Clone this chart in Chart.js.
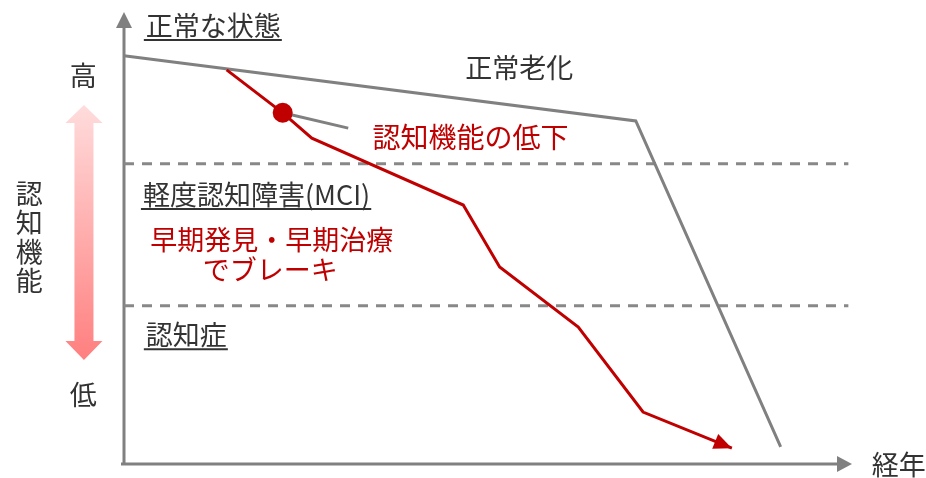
<!DOCTYPE html>
<html lang="ja">
<head>
<meta charset="utf-8">
<script src="https://cdn.jsdelivr.net/npm/chart.js@4.4.1/dist/chart.umd.min.js"></script>
<style>
  html, body { margin: 0; padding: 0; background: #fff; }
  #wrap { width: 926px; height: 478px; position: relative; }
</style>
</head>
<body>
<div id="wrap"><canvas id="chart"></canvas></div>
<script>
// curves (x: 経年 0-100, y: 認知機能 0-100)
const agingX = [0, 70.3, 90.2];
const agingY = [90.3, 75.9, 3.8];
const declineX = [14.1, 21.8, 25.8, 46.6, 51.6, 62.4, 71.3, 83.5];
const declineY = [87.2, 77.7, 72.1, 57.3, 43.6, 30.3, 11.5, 3.5];
const brakeX = [21.8, 30.8];
const brakeY = [77.7, 74.3];
const markX = [21.8];
const markY = [77.7];
const stageBounds = [66.4, 35.0];
const boundSpan = [0, 99.5];

// texts
const stageNames = ['正常な状態', '軽度認知障害(MCI)', '認知症'];
const curveNames = ['正常老化', '認知機能の低下'];
const noteLines = ['早期発見・早期治療', 'でブレーキ'];
const levelNames = ['高', '低'];
const yTitle = '認知機能';
const xTitle = '経年';

// where the texts go, in axis units
const stageAt = [[3.0, 96.9], [2.6, 59.5], [3.0, 28.5]];
const curveAt = [[54.3, 87.6], [47.6, 72.3]];
const noteAt = [[20.3, 49.6], [20.1, 42.9]];
const levelAt = [[-5.6, 85.8], [-5.6, 15.3]];
const yTitleAt = [-13.0, 50.2];
const xTitleAt = [102.7, -0.2];
const levelArrowAt = [-5.5, 79.4, 23.0];

const FONT = '"Noto Sans CJK JP", "Noto Sans", sans-serif';
const GRAY = '#808080';
const RED = '#c00000';
const INK = '#333333';

const pts = (xs, ys) => xs.map((x, i) => ({ x: x, y: ys[i] }));

function put(ctx, text, x, y, align, color, underline, size) {
    ctx.font = (size || 27) + 'px ' + FONT;
    ctx.fillStyle = color;
    ctx.textAlign = align;
    ctx.textBaseline = 'middle';
    ctx.fillText(text, x, y);
    if (underline) {
        const w = ctx.measureText(text).width;
        const x0 = align === 'left' ? x : x - w / 2;
        ctx.strokeStyle = color;
        ctx.lineWidth = 2;
        ctx.beginPath();
        ctx.moveTo(x0 - 2, y + 14);
        ctx.lineTo(x0 + w + 1, y + 14);
        ctx.stroke();
    }
}

const axesArrows = {
    id: 'axesArrows',
    beforeDatasetsDraw(chart) {
        const { ctx, chartArea: a } = chart;
        ctx.save();
        ctx.strokeStyle = GRAY;
        ctx.fillStyle = GRAY;
        ctx.lineWidth = 3;
        ctx.beginPath();
        ctx.moveTo(a.left, a.bottom + 1.5);
        ctx.lineTo(a.left, a.top + 15);
        ctx.moveTo(a.left - 3, a.bottom);
        ctx.lineTo(a.right - 14, a.bottom);
        ctx.stroke();
        ctx.beginPath();
        ctx.moveTo(a.left, a.top);
        ctx.lineTo(a.left - 8, a.top + 16);
        ctx.lineTo(a.left + 8, a.top + 16);
        ctx.closePath();
        ctx.moveTo(a.right, a.bottom);
        ctx.lineTo(a.right - 15, a.bottom - 8);
        ctx.lineTo(a.right - 15, a.bottom + 8);
        ctx.closePath();
        ctx.fill();
        ctx.restore();
    }
};

const annotations = {
    id: 'annotations',
    afterDatasetsDraw(chart) {
        const { ctx } = chart;
        const sx = chart.scales.x, sy = chart.scales.y;
        const X = v => sx.getPixelForValue(v);
        const Y = v => sy.getPixelForValue(v);
        ctx.save();

        // red arrow head at the end of the decline curve
        const n = declineX.length;
        const tx = X(declineX[n - 1]), ty = Y(declineY[n - 1]);
        const ang = Math.atan2(ty - Y(declineY[n - 2]), tx - X(declineX[n - 2]));
        ctx.translate(tx, ty);
        ctx.rotate(ang);
        ctx.fillStyle = RED;
        ctx.beginPath();
        ctx.moveTo(0, 0);
        ctx.lineTo(-18, -8);
        ctx.lineTo(-18, 8);
        ctx.closePath();
        ctx.fill();
        ctx.setTransform(1, 0, 0, 1, 0, 0);

        // 高 ⇕ 低 gradient arrow
        const cx = X(levelArrowAt[0]), top = Y(levelArrowAt[1]), bot = Y(levelArrowAt[2]);
        const grad = ctx.createLinearGradient(0, top, 0, bot);
        grad.addColorStop(0, '#ffdcdc');
        grad.addColorStop(1, '#ff7f7f');
        ctx.fillStyle = grad;
        ctx.beginPath();
        ctx.moveTo(cx, top);
        ctx.lineTo(cx + 18.5, top + 18);
        ctx.lineTo(cx + 9.5, top + 18);
        ctx.lineTo(cx + 9.5, bot - 19);
        ctx.lineTo(cx + 18.5, bot - 19);
        ctx.lineTo(cx, bot);
        ctx.lineTo(cx - 18.5, bot - 19);
        ctx.lineTo(cx - 9.5, bot - 19);
        ctx.lineTo(cx - 9.5, top + 18);
        ctx.lineTo(cx - 18.5, top + 18);
        ctx.closePath();
        ctx.fill();

        stageNames.forEach((t, i) => put(ctx, t, X(stageAt[i][0]), Y(stageAt[i][1]), 'left', INK, true));
        put(ctx, curveNames[0], X(curveAt[0][0]), Y(curveAt[0][1]), 'center', INK, false);
        put(ctx, curveNames[1], X(curveAt[1][0]), Y(curveAt[1][1]), 'center', RED, false, 28);
        noteLines.forEach((t, i) => put(ctx, t, X(noteAt[i][0]), Y(noteAt[i][1]), 'center', RED, false));
        levelNames.forEach((t, i) => put(ctx, t, X(levelAt[i][0]), Y(levelAt[i][1]), 'center', INK, false));
        put(ctx, xTitle, X(xTitleAt[0]), Y(xTitleAt[1]), 'left', INK, false);

        // vertical axis title, one character per line
        const chars = Array.from(yTitle);
        chars.forEach((c, i) => {
            put(ctx, c, X(yTitleAt[0]), Y(yTitleAt[1]) + (i - (chars.length - 1) / 2) * 29, 'center', INK, false);
        });

        ctx.restore();
    }
};

const lineSet = (data, color, order, extra) => Object.assign({
    data: data,
    showLine: true,
    borderColor: color,
    backgroundColor: color,
    borderWidth: 3,
    pointRadius: 0,
    borderJoinStyle: 'miter',
    clip: false,
    order: order
}, extra || {});

const datasets = [
    lineSet(pts(markX, markY), RED, 0, { showLine: false, pointRadius: 10, pointBorderWidth: 0, pointBackgroundColor: RED }),
    lineSet(pts(declineX, declineY), RED, 1),
    lineSet(pts(brakeX, brakeY), GRAY, 2),
    lineSet(pts(agingX, agingY), GRAY, 3)
];
stageBounds.forEach(b => {
    datasets.push(lineSet(pts(boundSpan, [b, b]), '#888888', 4, { borderDash: [10, 8] }));
});

new Chart(document.getElementById('chart'), {
    type: 'scatter',
    data: { datasets: datasets },
    options: {
        responsive: true,
        maintainAspectRatio: false,
        animation: false,
        layout: { padding: { left: 124, right: 74, top: 12, bottom: 14 } },
        scales: {
            x: { type: 'linear', min: 0, max: 100, display: false },
            y: { type: 'linear', min: 0, max: 100, display: false }
        },
        plugins: { legend: { display: false }, tooltip: { enabled: false } }
    },
    plugins: [axesArrows, annotations]
});
</script>
</body>
</html>
